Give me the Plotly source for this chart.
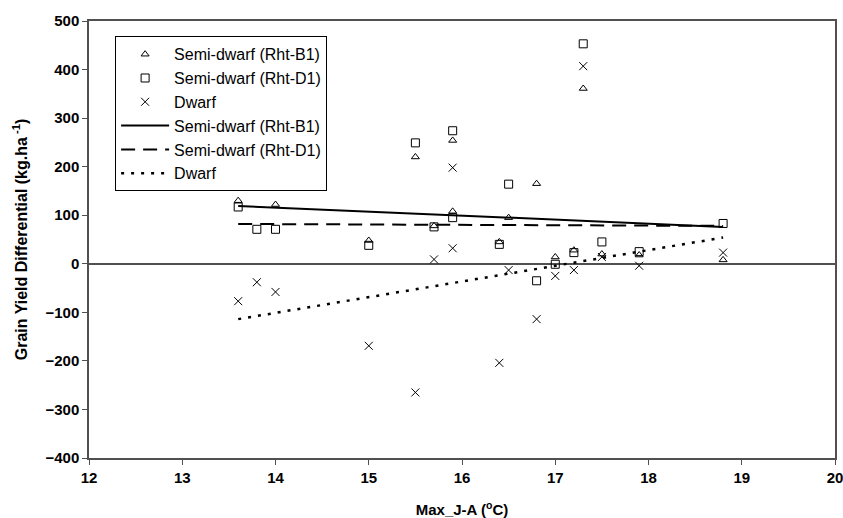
import plotly.graph_objects as go

# Data
x_vals = [13.6, 13.8, 14.0, 15.0, 15.5, 15.7, 15.9, 15.9, 16.4, 16.5, 16.8, 17.0, 17.2, 17.3, 17.5, 17.9, 18.8]
rht_b1 = [130, 165, 122, 48, 220, 78, 254, 108, 45, 95, 165, 14, 28, 361, 20, 18, 8]
rht_d1 = [117, 71, 71, 38, 249, 76, 274, 95, 40, 164, -35, -1, 23, 453, 45, 25, 83]
dwarf = [-77, -38, -58, -169, -265, 9, 198, 32, -204, -13, -114, -25, -13, 407, 14, -4, 23]

trend_x = [13.6, 18.8]
trend_b1 = [119, 76]
trend_d1 = [82, 78]
trend_dwarf = [-114, 54]

names = ["Semi-dwarf (Rht-B1)", "Semi-dwarf (Rht-D1)", "Dwarf"]
x_ticks = list(range(12, 21))
y_ticks = list(range(-400, 501, 100))

FONT = "Arial, Liberation Sans, sans-serif"
AX = "#505050"

fig = go.Figure()
fig.add_trace(go.Scatter(x=x_vals, y=rht_b1, mode="markers", name=names[0],
                         marker=dict(symbol="triangle-up-open", size=7, color="black", line=dict(width=1))))
fig.add_trace(go.Scatter(x=x_vals, y=rht_d1, mode="markers", name=names[1],
                         marker=dict(symbol="square-open", size=8, color="black", line=dict(width=1))))
fig.add_trace(go.Scatter(x=x_vals, y=dwarf, mode="markers", name=names[2],
                         marker=dict(symbol="x-thin-open", size=8, color="black", line=dict(width=1))))
fig.add_trace(go.Scatter(x=trend_x, y=trend_b1, mode="lines", name=names[0],
                         line=dict(color="black", width=2, dash="solid")))
fig.add_trace(go.Scatter(x=trend_x, y=trend_d1, mode="lines", name=names[1],
                         line=dict(color="black", width=2, dash="14px,8px")))
fig.add_trace(go.Scatter(x=trend_x, y=trend_dwarf, mode="lines", name=names[2],
                         line=dict(color="black", width=2.5, dash="3px,7px")))

fig.update_layout(
    width=843, height=518,
    paper_bgcolor="white", plot_bgcolor="white",
    margin=dict(l=89, r=8, t=21, b=60),
    font=dict(family=FONT, color="black", size=15),
    showlegend=True,
    legend=dict(x=0.035, y=0.965, xanchor="left", yanchor="top",
                bordercolor="black", borderwidth=1, bgcolor="white",
                font=dict(size=16, family=FONT), tracegroupgap=0,
                itemwidth=48),
)
fig.update_xaxes(range=[12, 20], tickvals=x_ticks, showgrid=False, zeroline=False,
                 showline=True, linecolor=AX, linewidth=1.5, mirror=True,
                 ticks="outside", ticklen=5, tickcolor=AX, tickwidth=1,
                 tickfont=dict(size=15, family=FONT, weight="bold"),
                 ticklabeloverflow="allow",
                 automargin=False,
                 title=dict(text="Max_J-A (<sup>o</sup>C)", font=dict(size=15, weight="bold"), standoff=21))
fig.update_yaxes(range=[-400, 500], tickvals=y_ticks, showgrid=False,
                 zeroline=True, zerolinecolor=AX, zerolinewidth=1.5,
                 showline=True, linecolor=AX, linewidth=1.5, mirror=True,
                 ticks="outside", ticklen=5, tickcolor=AX, tickwidth=1,
                 tickfont=dict(size=15, family=FONT, weight="bold"),
                 automargin=False,
                 title=dict(text="Grain Yield Differential (kg.ha<sup> -1</sup>)", font=dict(size=16, weight="bold"), standoff=14))

fig.write_html("out.html",
               config={"displayModeBar": False},
               post_script="document.body.style.margin='0';document.body.style.overflow='hidden';")
